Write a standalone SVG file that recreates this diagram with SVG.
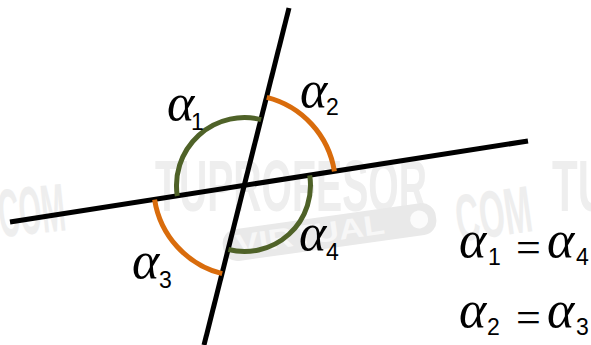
<svg xmlns="http://www.w3.org/2000/svg" width="591" height="345" viewBox="0 0 591 345">
  <style>
    .wm { font-family: "Liberation Sans", Arial, sans-serif; font-weight: bold; fill: #eeeeee; }
    .line { stroke: #000; stroke-width: 5; fill: none; }
    .green { stroke: #4f6228; stroke-width: 5; fill: none; }
    .orange { stroke: #d96c0c; stroke-width: 5; fill: none; }
    .al { font-family: "Liberation Serif", "Times New Roman", serif; font-style: italic; font-size: 52px; fill: #000; }
    .sub { font-family: "Liberation Sans", Arial, sans-serif; font-size: 23px; fill: #000; }
    .eq { font-family: "Liberation Serif", "Times New Roman", serif; font-size: 44px; fill: #000; }
  </style>
  <rect width="591" height="345" fill="#fff"/>

  <g id="watermark">
    <text class="wm" x="-2" y="234" font-size="68" textLength="67" lengthAdjust="spacingAndGlyphs" transform="rotate(-6 30 210)">COM</text>
    <text class="wm" x="155" y="211" font-size="72" textLength="272" lengthAdjust="spacingAndGlyphs">TUPROFESOR</text>
    <g transform="rotate(-8 330 232)">
      <rect x="222" y="216" width="215" height="32" rx="14" fill="#e9e9e9"/>
      <text x="235" y="241" font-family="Liberation Sans, sans-serif" font-weight="bold" font-size="28" fill="#f7f7f7" textLength="150" lengthAdjust="spacingAndGlyphs">VIRTUAL</text>
      <circle cx="420" cy="232" r="9" fill="#fbfbfb"/>
    </g>
    <text class="wm" x="455" y="237" font-size="66" textLength="76" lengthAdjust="spacingAndGlyphs" transform="rotate(-8 490 210)">COM</text>
    <text class="wm" x="552" y="211" font-size="72" textLength="56" lengthAdjust="spacingAndGlyphs">TU</text>
  </g>

  <g id="connectors">
    <line class="line" x1="289" y1="8" x2="204" y2="345"/>
    <line class="line" x1="10" y1="222" x2="528" y2="141"/>
  </g>

  <g id="angle1">
    <path class="green" d="M 261.1 119.6 A 68 68 0 0 0 177.3 196"/>
    <text class="al" x="167" y="120">α</text>
    <text class="sub" x="191" y="130">1</text>
  </g>
  <g id="angle2">
    <path class="orange" d="M 266.8 97.3 A 91 91 0 0 1 334.4 171.4"/>
    <text class="al" x="300" y="107">α</text>
    <text class="sub" x="326" y="115">2</text>
  </g>
  <g id="angle3">
    <path class="orange" d="M 154.6 199.6 A 91 91 0 0 0 222.2 273.7"/>
    <text class="al" x="132" y="278">α</text>
    <text class="sub" x="159" y="288">3</text>
  </g>
  <g id="angle4">
    <path class="green" d="M 309.7 175.3 A 66 66 0 0 1 228.4 249.5"/>
    <text class="al" x="299" y="250">α</text>
    <text class="sub" x="326" y="260">4</text>
  </g>

  <g id="equations">
    <text class="al" x="459" y="257">α</text>
    <text class="sub" x="488" y="265">1</text>
    <text class="eq" x="528.5" y="262" text-anchor="middle">=</text>
    <text class="al" x="547" y="257">α</text>
    <text class="sub" x="576" y="265">4</text>

    <text class="al" x="459" y="327">α</text>
    <text class="sub" x="487" y="335">2</text>
    <text class="eq" x="528.5" y="332" text-anchor="middle">=</text>
    <text class="al" x="547" y="327">α</text>
    <text class="sub" x="576" y="335">3</text>
  </g>
</svg>
